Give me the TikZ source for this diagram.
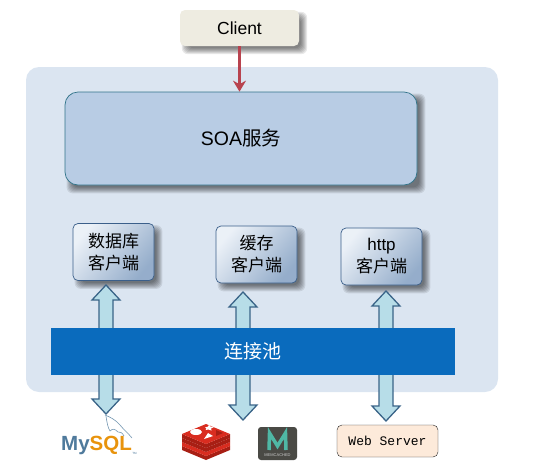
\documentclass[tikz,border=0pt]{standalone}
\usepackage{fontspec}
\setmainfont{Liberation Sans}
\setmonofont{Liberation Mono}
\newfontfamily\cjk{Noto Sans CJK SC}
\usetikzlibrary{arrows.meta,calc}
\pgfdeclarelayer{panellayer}
\pgfdeclarelayer{shadowlayer}
\pgfsetlayers{panellayer,shadowlayer,main}

\definecolor{panelblue}{HTML}{DBE5F1}
\definecolor{soablue}{HTML}{B8CCE4}
\definecolor{soaedge}{HTML}{31748A}
\definecolor{poolblue}{HTML}{0A6BBD}
\definecolor{arrowfill}{HTML}{B7DDE8}
\definecolor{arrowedge}{HTML}{3A6488}
\definecolor{clientfill}{HTML}{EEECE1}
\definecolor{clientred}{HTML}{B8434F}
\definecolor{serverfill}{HTML}{FDEADA}
\definecolor{boxedge}{HTML}{3B5F8A}
\definecolor{redislight}{HTML}{D92D20}
\definecolor{redisdark}{HTML}{A81F14}
\definecolor{mysqlblue}{HTML}{4F7A9C}
\definecolor{mysqlorange}{HTML}{E8930C}
\definecolor{memgrey}{HTML}{4A4A45}
\definecolor{memteal}{HTML}{4FB8A5}

\tikzset{
  softlayer/.style={fill=black,opacity=.09,rounded corners=6pt},
  clientbox/.style={rounded corners=5pt,draw=boxedge,line width=.7pt,minimum width=81pt,minimum height=57pt,
    align=center,font=\fontsize{17}{22}\selectfont,inner sep=0pt,
    shade,shading=axis,left color=white!72!soablue,right color=soablue!72!boxedge,shading angle=50},
  blockarrow/.style={draw=arrowedge,fill=arrowfill,line width=1.3pt,line join=miter}
}
\newcommand{\blockarrow}[2]{
  \coordinate (h) at ($(#2)!15pt!(#1)$);
  \draw[blockarrow] ($(#1)!7pt!90:(#2)$) -- ($(h)!7pt!90:(#2)$) -- ($(h)!14pt!90:(#2)$) -- (#2)
    -- ($(h)!14pt!-90:(#2)$) -- ($(h)!7pt!-90:(#2)$) -- ($(#1)!7pt!-90:(#2)$) -- cycle;
}

\begin{document}
\begin{tikzpicture}[x=1pt,y=-1pt]
  \useasboundingbox (0,0) rectangle (552,472);

  % background panel
  \begin{pgfonlayer}{panellayer}
    \node (panel) at (262,229.5) [fill=panelblue,rounded corners=13pt,minimum width=472pt,minimum height=325pt,inner sep=0pt] {};
  \end{pgfonlayer}

  \node (client) at (239.5,28) [fill=clientfill,rounded corners=5pt,minimum width=119pt,minimum height=36pt,
    inner sep=0pt,font=\fontsize{17.5}{20}\selectfont] {Client};
  \node (soa) at (241,138.5) [draw=soaedge,fill=soablue,rounded corners=13pt,minimum width=352pt,minimum height=93pt,
    inner sep=0pt,line width=.7pt,font=\fontsize{19.5}{24}\selectfont] {SOA{\cjk 服务}};
  \draw[clientred,line width=2.4pt,-{Stealth[length=11pt,width=13pt]}] (client.south) -- (client.south |- soa.north);

  \node (db) at (113.5,252) [clientbox] {{\cjk 数据库}\\{\cjk 客户端}};
  \node (cache) at (256.5,254.5) [clientbox] {{\cjk 缓存}\\{\cjk 客户端}};
  \node (http) at (381.5,256.5) [clientbox] {http\\{\cjk 客户端}};

  % soft shadows under the boxes
  \begin{pgfonlayer}{shadowlayer}
    \foreach \n in {client,soa,db,cache,http} {
      \foreach \g in {3,2,...,-3} {
        \fill[softlayer] ($(\n.south west)+(5-\g,5+\g)$) rectangle ($(\n.north east)+(5+\g,5-\g)$);
      }
    }
  \end{pgfonlayer}

  % pool and the block arrows through it
  \coordinate (dbup) at (106,330);
  \coordinate (dbtip) at (106,285);
  \coordinate (cacheup) at (243,330);
  \coordinate (cachetip) at (243,292);
  \coordinate (httpup) at (386,330);
  \coordinate (httptip) at (386,291);
  \coordinate (dbdown) at (106,373);
  \coordinate (mysqltip) at (106,414);
  \coordinate (redisdown) at (243,373);
  \coordinate (redistip) at (243,420);
  \coordinate (webdown) at (386,373);
  \coordinate (webtip) at (386,421);
  \blockarrow{dbup}{dbtip}
  \blockarrow{cacheup}{cachetip}
  \blockarrow{httpup}{httptip}
  \blockarrow{dbdown}{mysqltip}
  \blockarrow{redisdown}{redistip}
  \blockarrow{webdown}{webtip}
  \node (pool) at (253,351.5) [fill=poolblue,text=white,minimum width=404pt,minimum height=47pt,inner sep=0pt,
    font=\cjk\fontsize{19}{24}\selectfont] {连接池};

  \node (web) at (387.5,441) [draw=black!85,fill=serverfill,rounded corners=5pt,minimum width=101pt,minimum height=32pt,
    inner sep=0pt,font=\ttfamily\fontsize{13}{16}\selectfont] {Web Server};

  % mysql logo
  \node (mysql) at (96.5,445) [inner sep=0pt,font=\bfseries\fontsize{20.5}{24}\selectfont]
    {\textcolor{mysqlblue}{My}\textcolor{mysqlorange}{SQL}};
  \node (tm) at (134.5,453) [inner sep=0pt,text=mysqlblue,font=\fontsize{3}{3}\selectfont] {TM};
  \draw[mysqlblue!80!white,line width=.6pt] (105,415) .. controls (110,417) and (116,420) .. (120,425)
    .. controls (124,430) and (128,433) .. (132,438);
  \draw[mysqlblue!80!white,line width=.6pt] (106,416) .. controls (107,423) and (108,428) .. (110,431)
    .. controls (113,428) and (115,429) .. (118,432) .. controls (120,432) and (122,432) .. (124,436);

  % redis logo
  \begin{scope}
    \foreach \dy/\col in {12/redisdark,8/redislight,4/redisdark,0/redisdark} {
      \fill[\col] (182,434+\dy) -- (206,444+\dy) -- (230,434+\dy) -- (230,438+\dy) -- (206,448+\dy) -- (182,438+\dy) -- cycle;
    }
    \fill[redislight] (206,424) -- (230,434) -- (206,444) -- (182,434) -- cycle;
    \fill[white] (196,432) ellipse (6pt and 3pt);
    \fill[white] (204,439) -- (213,436) -- (208,433) -- cycle;
    \fill[white] (205,427.5) -- (208,426.5) -- (209,424.5) -- (210.5,426.5) -- (214,427) -- (211,428.5) -- (211.5,430.5) -- (208.5,429.5) -- (205.5,430) -- (206.5,428.5) -- cycle;
    \fill[redisdark] (216,430) -- (223,433) -- (216,436) -- cycle;
  \end{scope}

  % memcached logo
  \node (memcached) at (277.5,443.5) [fill=memgrey,rounded corners=3pt,minimum width=39pt,minimum height=33pt,inner sep=0pt] {};
  \draw[memteal,line width=3.5pt,line join=miter] (269,450) -- (269.5,433) -- (277.5,446) -- (285.5,433) -- (286,450);
  \node (memtext) at (277.5,455) [inner sep=0pt,text=white!80!black,font=\fontsize{4}{4}\selectfont] {MEMCACHED};
\end{tikzpicture}
\end{document}
